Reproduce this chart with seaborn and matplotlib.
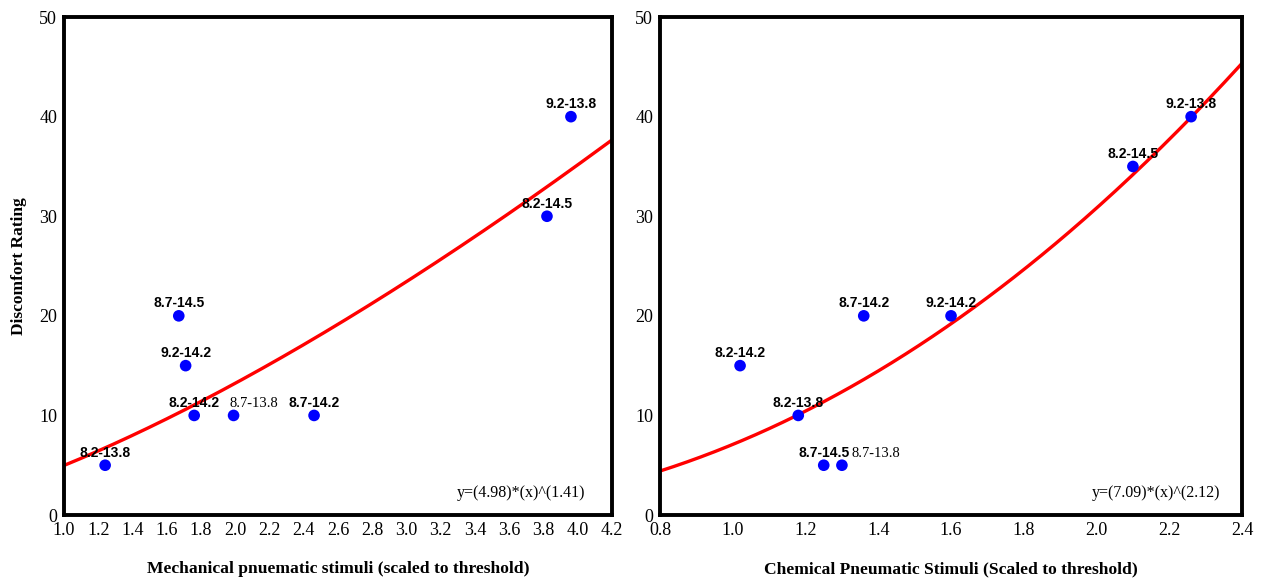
import numpy as np
import pandas as pd
import matplotlib
matplotlib.use("Agg")
import matplotlib.pyplot as plt
import seaborn as sns

# Mechanical pneumatic stimuli
mech_labels = ["8.2-13.8", "8.7-14.5", "9.2-14.2", "8.2-14.2", "8.7-13.8",
               "8.7-14.2", "8.2-14.5", "9.2-13.8"]
mech_x = [1.24, 1.67, 1.71, 1.76, 1.99, 2.46, 3.82, 3.96]
mech_y = [5, 20, 15, 10, 10, 10, 30, 40]
mech_coef, mech_exp = 4.98, 1.41

# Chemical pneumatic stimuli
chem_labels = ["8.2-14.2", "8.2-13.8", "8.7-14.5", "8.7-13.8", "8.7-14.2",
               "9.2-14.2", "8.2-14.5", "9.2-13.8"]
chem_x = [1.02, 1.18, 1.25, 1.30, 1.36, 1.60, 2.10, 2.26]
chem_y = [15, 10, 5, 5, 20, 20, 35, 40]
chem_coef, chem_exp = 7.09, 2.12

sns.set_theme(style="white")
plt.rcParams["font.family"] = ["Liberation Serif", "DejaVu Serif"]
plt.rcParams["text.color"] = "black"
plt.rcParams["axes.labelcolor"] = "black"
plt.rcParams["xtick.color"] = "black"
plt.rcParams["ytick.color"] = "black"

fig = plt.figure(figsize=(12.63, 5.79), dpi=100)
ax1 = fig.add_axes([0.0507, 0.1105, 0.4339, 0.860])
ax2 = fig.add_axes([0.5226, 0.1105, 0.4608, 0.860])

SANS = ["Liberation Sans", "DejaVu Sans"]
SERIF = ["Liberation Serif", "DejaVu Serif"]


def panel(ax, labels, xs, ys, coef, expo, xlim, xticks, xlabel, eq_x,
          special_offset):
    lo, hi = xlim
    xc = np.linspace(lo, hi, 300)
    curve = pd.DataFrame({"x": xc, "y": coef * xc ** expo})
    sns.lineplot(data=curve, x="x", y="y", ax=ax, color="#ff0000",
                 linewidth=2.4, zorder=2)
    pts = pd.DataFrame({"x": xs, "y": ys, "label": labels})
    sns.scatterplot(data=pts, x="x", y="y", ax=ax, color="#0000ff",
                    s=70, edgecolor="none", zorder=3)
    for lab, x, y in zip(labels, xs, ys):
        if lab == "8.7-13.8":
            ax.annotate(lab, (x, y), xytext=(special_offset, 4),
                        textcoords="offset points", ha="left", va="bottom",
                        fontsize=10.5, family=SERIF, color="black", zorder=4)
        else:
            ax.annotate(lab, (x, y), xytext=(0, 4),
                        textcoords="offset points", ha="center", va="bottom",
                        fontsize=10, fontweight="bold", family=SANS,
                        color="black", zorder=4)
    ax.set_xlim(lo, hi)
    ax.set_ylim(0, 50)
    ax.set_xticks(xticks)
    ax.set_xticklabels([f"{t:.1f}" for t in xticks])
    ax.set_yticks([0, 10, 20, 30, 40, 50])
    ax.tick_params(axis="both", length=0, labelsize=13, pad=5)
    for sp in ax.spines.values():
        sp.set_visible(True)
        sp.set_color("black")
        sp.set_linewidth(2.8)
    ax.set_xlabel(xlabel, fontsize=12.6, fontweight="bold", labelpad=16)
    ax.set_ylabel("")
    ax.text(eq_x, 0.045, f"y=({coef:.2f})*(x)^({expo:.2f})",
            transform=ax.transAxes, ha="right", va="center", fontsize=11.5)


panel(ax1, mech_labels, mech_x, mech_y, mech_coef, mech_exp, (1.0, 4.2),
      np.round(np.arange(1.0, 4.21, 0.2), 1),
      "Mechanical pnuematic stimuli (scaled to threshold)", 0.952, -3)
panel(ax2, chem_labels, chem_x, chem_y, chem_coef, chem_exp, (0.8, 2.4),
      np.round(np.arange(0.8, 2.41, 0.2), 1),
      "Chemical Pneumatic Stimuli (Scaled to threshold)", 0.962, 7)

ax1.set_ylabel("Discomfort Rating", fontsize=12.5, fontweight="bold",
               labelpad=9)

fig.savefig("out.png", dpi=100)
